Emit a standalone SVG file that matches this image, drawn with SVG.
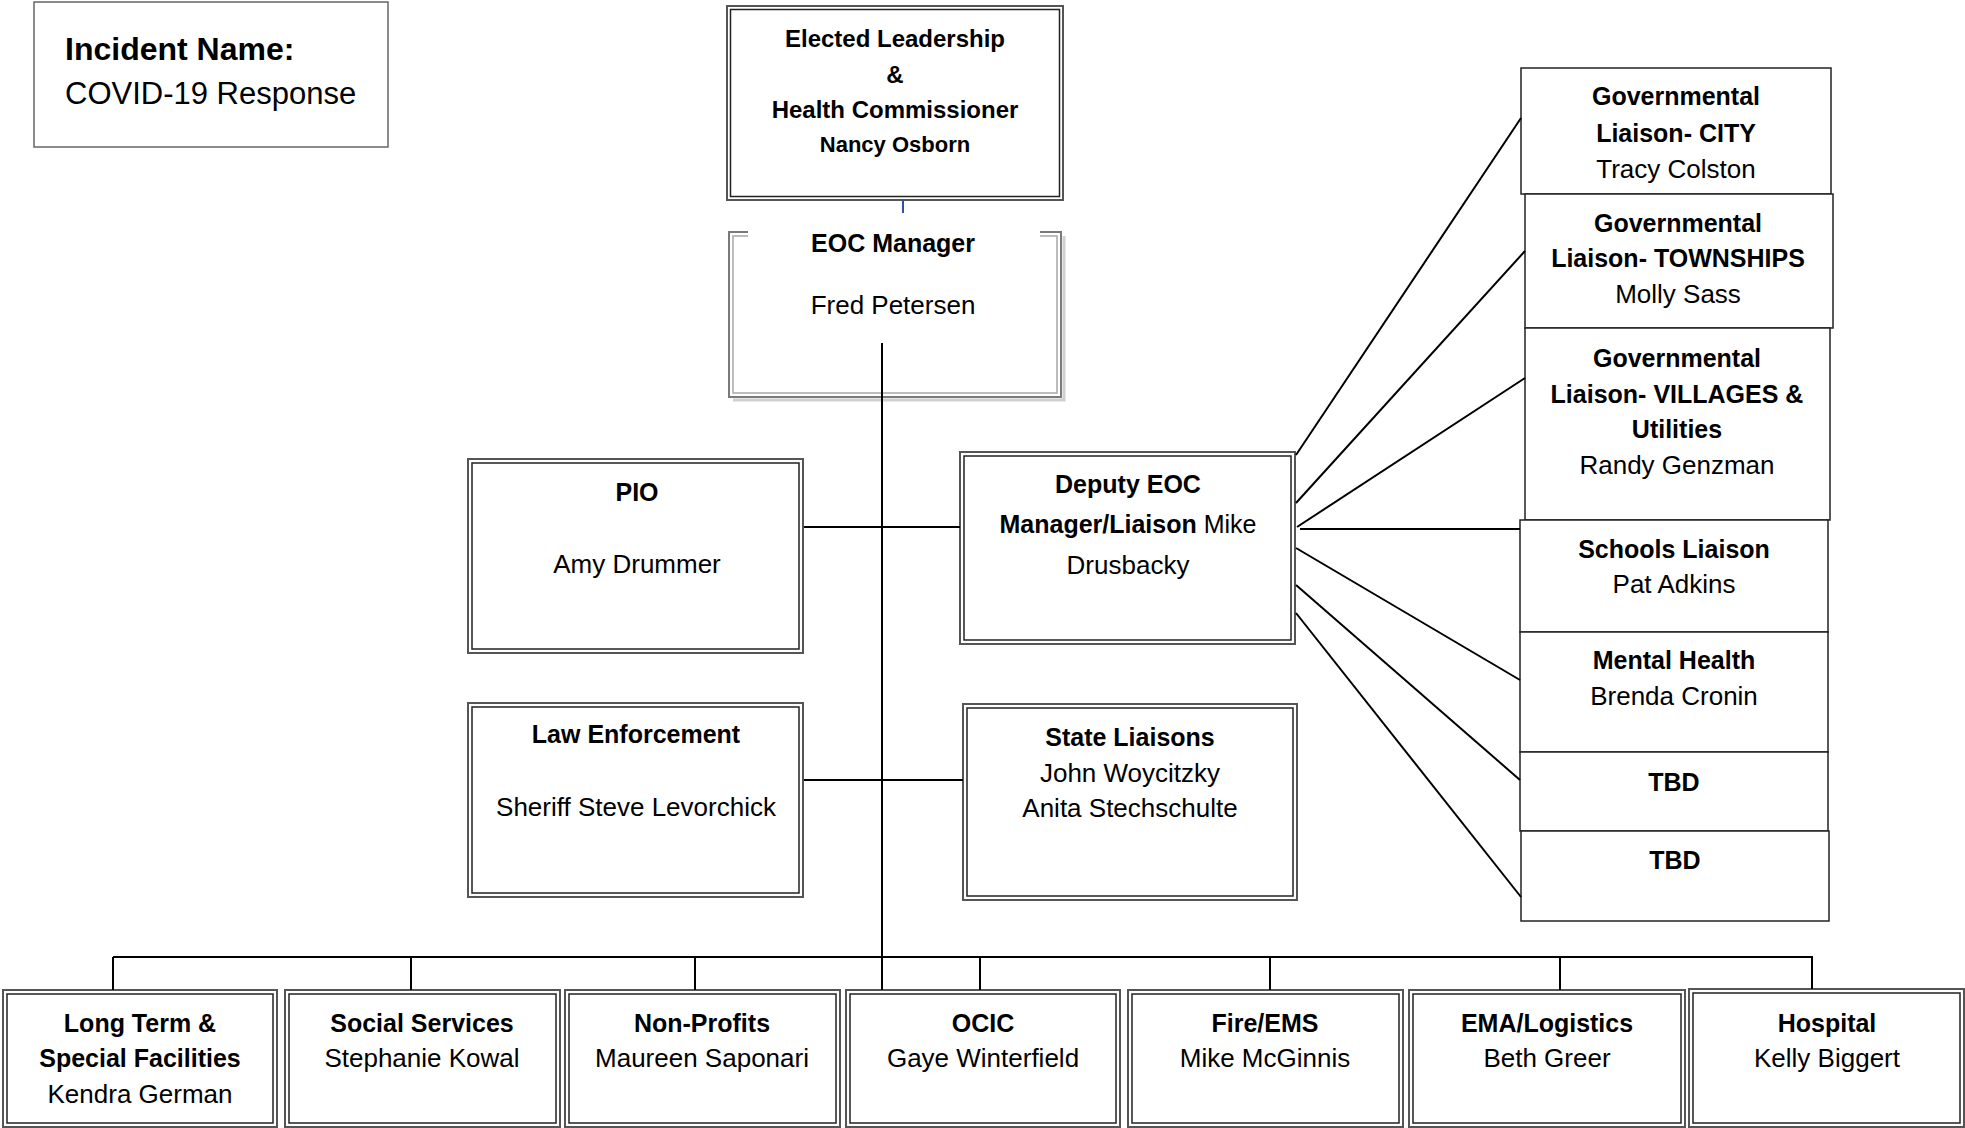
<svg xmlns="http://www.w3.org/2000/svg" width="1965" height="1128" viewBox="0 0 1965 1128">
<style>
text{font-family:"Liberation Sans",Arial,sans-serif;fill:#000;text-anchor:middle}
.b{font-weight:bold;font-size:25px}
.r{font-size:26px}
.o{fill:#fff;stroke:#555;stroke-width:2}
.i{fill:none;stroke:#222;stroke-width:1.5}
.s{fill:#fff;stroke:#222;stroke-width:1.5}
.c{stroke:#000;stroke-width:2;fill:none}
</style>
<rect width="1965" height="1128" fill="#fff"/>

<g id="incident">
<rect x="34" y="2" width="354" height="145" fill="#fff" stroke="#666" stroke-width="1.5"/>
<text x="65" y="60" style="text-anchor:start;font-weight:bold;font-size:32px">Incident Name:</text>
<text x="65" y="104" style="text-anchor:start;font-size:31px">COVID-19 Response</text>
</g>

<g id="elected">
<rect class="o" x="727" y="6" width="336" height="194"/>
<rect class="i" x="730.5" y="9.5" width="329" height="187"/>
<text x="895" y="47" style="font-weight:bold;font-size:24px">Elected Leadership</text>
<text x="895" y="83" style="font-weight:bold;font-size:24px">&amp;</text>
<text x="895" y="118" style="font-weight:bold;font-size:24px">Health Commissioner</text>
<text x="895" y="152" style="font-weight:bold;font-size:22px">Nancy Osborn</text>
</g>

<g id="eoc-manager">
<path d="M733,400 H1064 V236" fill="none" stroke="#d0d0d0" stroke-width="3"/>
<rect x="729" y="232" width="332" height="165" fill="#fff"/>
<path d="M748,232 H729 V397 H1061 V232 H1040" fill="none" stroke="#7a7a7a" stroke-width="2"/>
<path d="M748,236 H733 V393 H1057 V236 H1040" fill="none" stroke="#a8a8a8" stroke-width="1.5"/>
<text class="b" x="893" y="252">EOC Manager</text>
<text class="r" x="893" y="314">Fred Petersen</text>
</g>

<g id="pio">
<rect class="o" x="468" y="459" width="335" height="194"/>
<rect class="i" x="472" y="463" width="327" height="186"/>
<text class="b" x="637" y="501">PIO</text>
<text class="r" x="637" y="573">Amy Drummer</text>
</g>

<g id="deputy">
<rect class="o" x="960" y="452" width="335" height="192"/>
<rect class="i" x="964" y="456" width="327" height="184"/>
<text class="b" x="1128" y="493">Deputy EOC</text>
<text x="1128" y="533" style="font-size:25px"><tspan font-weight="bold">Manager/Liaison</tspan> Mike</text>
<text class="r" x="1128" y="574">Drusbacky</text>
</g>

<g id="law">
<rect class="o" x="468" y="703" width="335" height="194"/>
<rect class="i" x="472" y="707" width="327" height="186"/>
<text class="b" x="636" y="743">Law Enforcement</text>
<text class="r" x="636" y="816">Sheriff Steve Levorchick</text>
</g>

<g id="state">
<rect class="o" x="963" y="704" width="334" height="196"/>
<rect class="i" x="967" y="708" width="326" height="188"/>
<text class="b" x="1130" y="746">State Liaisons</text>
<text class="r" x="1130" y="782">John Woycitzky</text>
<text class="r" x="1130" y="817">Anita Stechschulte</text>
</g>

<g id="gov-city">
<rect class="s" x="1521" y="68" width="310" height="126"/>
<text class="b" x="1676" y="105">Governmental</text>
<text class="b" x="1676" y="142">Liaison- CITY</text>
<text class="r" x="1676" y="178">Tracy Colston</text>
</g>

<g id="gov-townships">
<rect class="s" x="1525" y="194" width="308" height="134"/>
<text class="b" x="1678" y="232">Governmental</text>
<text class="b" x="1678" y="267">Liaison- TOWNSHIPS</text>
<text class="r" x="1678" y="303">Molly Sass</text>
</g>

<g id="gov-villages">
<rect class="s" x="1525" y="328" width="305" height="192"/>
<text class="b" x="1677" y="367">Governmental</text>
<text class="b" x="1677" y="403">Liaison- VILLAGES &amp;</text>
<text class="b" x="1677" y="438">Utilities</text>
<text class="r" x="1677" y="474">Randy Genzman</text>
</g>

<g id="schools">
<rect class="s" x="1520" y="520" width="308" height="112"/>
<text class="b" x="1674" y="558">Schools Liaison</text>
<text class="r" x="1674" y="593">Pat Adkins</text>
</g>

<g id="mental-health">
<rect class="s" x="1520" y="632" width="308" height="120"/>
<text class="b" x="1674" y="669">Mental Health</text>
<text class="r" x="1674" y="705">Brenda Cronin</text>
</g>

<g id="tbd1">
<rect class="s" x="1520" y="752" width="308" height="79"/>
<text class="b" x="1674" y="791">TBD</text>
</g>

<g id="tbd2">
<rect class="s" x="1521" y="831" width="308" height="90"/>
<text class="b" x="1675" y="869">TBD</text>
</g>

<g id="long-term">
<rect class="o" x="3" y="990" width="274" height="137"/>
<rect class="i" x="7" y="994" width="266" height="129"/>
<text class="b" x="140" y="1032">Long Term &amp;</text>
<text class="b" x="140" y="1067">Special Facilities</text>
<text class="r" x="140" y="1103">Kendra German</text>
</g>

<g id="social">
<rect class="o" x="285" y="990" width="275" height="137"/>
<rect class="i" x="289" y="994" width="267" height="129"/>
<text class="b" x="422" y="1032">Social Services</text>
<text class="r" x="422" y="1067">Stephanie Kowal</text>
</g>

<g id="non-profits">
<rect class="o" x="565" y="990" width="275" height="137"/>
<rect class="i" x="569" y="994" width="267" height="129"/>
<text class="b" x="702" y="1032">Non-Profits</text>
<text class="r" x="702" y="1067">Maureen Saponari</text>
</g>

<g id="ocic">
<rect class="o" x="846" y="990" width="274" height="137"/>
<rect class="i" x="850" y="994" width="266" height="129"/>
<text class="b" x="983" y="1032">OCIC</text>
<text class="r" x="983" y="1067">Gaye Winterfield</text>
</g>

<g id="fire-ems">
<rect class="o" x="1128" y="990" width="275" height="137"/>
<rect class="i" x="1132" y="994" width="267" height="129"/>
<text class="b" x="1265" y="1032">Fire/EMS</text>
<text class="r" x="1265" y="1067">Mike McGinnis</text>
</g>

<g id="ema">
<rect class="o" x="1409" y="990" width="276" height="137"/>
<rect class="i" x="1413" y="994" width="268" height="129"/>
<text class="b" x="1547" y="1032">EMA/Logistics</text>
<text class="r" x="1547" y="1067">Beth Greer</text>
</g>

<g id="hospital">
<rect class="o" x="1689" y="989" width="275" height="138"/>
<rect class="i" x="1693" y="993" width="267" height="130"/>
<text class="b" x="1827" y="1032">Hospital</text>
<text class="r" x="1827" y="1067">Kelly Biggert</text>
</g>

<g id="connectors">
<line x1="903" y1="200" x2="903" y2="213" stroke="#2F5496" stroke-width="2"/>
<line class="c" x1="882" y1="343" x2="882" y2="990"/>
<line class="c" x1="804" y1="527" x2="960" y2="527"/>
<line class="c" x1="804" y1="780" x2="963" y2="780"/>
<line class="c" x1="113" y1="957" x2="1813" y2="957"/>
<line class="c" x1="113" y1="957" x2="113" y2="990"/>
<line class="c" x1="411" y1="957" x2="411" y2="990"/>
<line class="c" x1="695" y1="957" x2="695" y2="990"/>
<line class="c" x1="980" y1="957" x2="980" y2="990"/>
<line class="c" x1="1270" y1="957" x2="1270" y2="990"/>
<line class="c" x1="1560" y1="957" x2="1560" y2="990"/>
<line class="c" x1="1812" y1="957" x2="1812" y2="989"/>
<line class="c" x1="1296" y1="455" x2="1521" y2="118"/>
<line class="c" x1="1296" y1="503" x2="1525" y2="251"/>
<line class="c" x1="1297" y1="527" x2="1525" y2="378"/>
<line class="c" x1="1300" y1="529" x2="1520" y2="529"/>
<line class="c" x1="1296" y1="548" x2="1520" y2="680"/>
<line class="c" x1="1296" y1="585" x2="1520" y2="780"/>
<line class="c" x1="1296" y1="613" x2="1521" y2="897"/>
</g>
</svg>
